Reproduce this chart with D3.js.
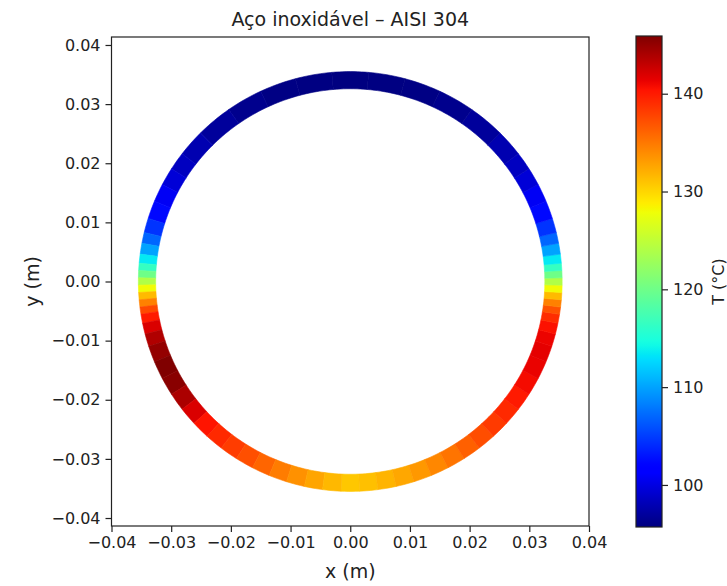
<!DOCTYPE html>
<html>
<head>
<meta charset="utf-8">
<script src="https://cdn.jsdelivr.net/npm/d3@7"></script>
<style>
  body { margin: 0; background: #fff; }
  svg text { font-family: "DejaVu Sans", sans-serif; fill: #222; }
</style>
</head>
<body>
<svg id="chart" width="727" height="586"></svg>
<script>
// ---- data ----
// angle round the ring (deg, 0 = +x, counter-clockwise) and temperature (°C)
const angleDeg = [
  -90, -85, -80, -75, -70, -65, -60, -55, -50, -45, -40, -35, -30, -25, -20, -16, -13, -10, -8, -6, -4, -2,
  0, 2, 4, 6, 9, 12, 15, 20, 25, 30, 35, 40, 50, 60, 70, 80, 90,
  100, 110, 120, 130, 140, 145, 150, 155, 160, 165, 168, 171, 174, 176, 178,
  180, 182, 184, 186, 188, 190, 193, 196, 200, 205, 210, 215, 220, 225, 230, 235, 240, 245, 250, 255, 260, 265
];
const tempC = [
  130.8, 131.2, 131.8, 132.5, 133.3, 134.2, 135.2, 136.3, 137.3, 138.3, 139.2, 140.0, 140.8, 141.3, 141.5, 141.2, 140.5, 139.0, 137.0, 134.5, 131.5, 128.0,
  124.0, 120.0, 116.5, 113.5, 110.0, 107.0, 104.5, 102.3, 100.8, 99.5, 98.5, 97.8, 96.9, 96.3, 95.9, 95.8, 95.7,
  95.8, 95.9, 96.3, 96.9, 97.8, 98.5, 99.5, 100.8, 102.3, 104.5, 107.0, 110.0, 113.5, 116.5, 120.0,
  124.0, 128.0, 131.5, 134.5, 137.5, 140.0, 142.0, 143.8, 145.0, 145.9, 145.5, 144.0, 142.0, 140.3, 139.2, 138.2, 137.2, 136.0, 134.8, 133.7, 132.6, 131.6
];
// ring radii (m)
const ringInner = 0.0326;
const ringOuter = 0.0355;

const xTicks = [-0.04, -0.03, -0.02, -0.01, 0.00, 0.01, 0.02, 0.03, 0.04];
const yTicks = [-0.04, -0.03, -0.02, -0.01, 0.00, 0.01, 0.02, 0.03, 0.04];
const cbTicks = [100, 110, 120, 130, 140];

const titleText = "Aço inoxidável – AISI 304";
const xLabel = "x (m)";
const yLabel = "y (m)";
const cbLabel = "T (°C)";

// ---- layout ----
const svg = d3.select("#chart");
const plot = { left: 111.5, right: 589, top: 37, bottom: 526 };
const cbar = { left: 636, right: 662, top: 36, bottom: 527 };
const tickFont = 16;
const labelFont = 19;

// scales
const x = d3.scaleLinear().domain([-0.04, 0.04]).range([plot.left, plot.right]);
const y = d3.scaleLinear().domain([-0.04135, 0.04135]).range([plot.bottom, plot.top]);

// matplotlib "jet" colormap, channel by channel
const jetR = d3.scaleLinear().domain([0, 0.35, 0.66, 0.89, 1]).range([0, 0, 1, 1, 0.5]).clamp(true);
const jetG = d3.scaleLinear().domain([0, 0.125, 0.375, 0.64, 0.91, 1]).range([0, 0, 1, 1, 0, 0]).clamp(true);
const jetB = d3.scaleLinear().domain([0, 0.11, 0.34, 0.65, 1]).range([0.5, 1, 1, 0, 0]).clamp(true);
const jet = t => d3.rgb(255 * jetR(t), 255 * jetG(t), 255 * jetB(t)).formatHex();

const tExtent = d3.extent(tempC);
const norm = d3.scaleLinear().domain(tExtent).range([0, 1]).clamp(true);
const color = v => jet(norm(v));

// ---- ring ----
const samples = angleDeg.map((a, i) => ({ a, t: tempC[i] }));
const n = samples.length;
const toRad = Math.PI / 180;

// each sample covers half way to its neighbours
const segs = samples.map((s, i) => {
  let prev = samples[(i - 1 + n) % n].a;
  let next = samples[(i + 1) % n].a;
  if (prev > s.a) prev -= 360;
  if (next < s.a) next += 360;
  return { a0: (prev + s.a) / 2, a1: (s.a + next) / 2, t: s.t };
});

const line = d3.line().x(d => x(d[0])).y(d => y(d[1]));

function segPoints(d) {
  const steps = Math.max(2, Math.ceil(d.a1 - d.a0));
  const pts = [];
  for (let k = 0; k <= steps; k++) {
    const a = (d.a0 + (d.a1 - d.a0) * k / steps) * toRad;
    pts.push([ringOuter * Math.cos(a), ringOuter * Math.sin(a)]);
  }
  for (let k = steps; k >= 0; k--) {
    const a = (d.a0 + (d.a1 - d.a0) * k / steps) * toRad;
    pts.push([ringInner * Math.cos(a), ringInner * Math.sin(a)]);
  }
  return pts;
}

svg.append("g")
  .selectAll("path")
  .data(segs)
  .join("path")
  .attr("d", d => line(segPoints(d)) + "Z")
  .attr("fill", d => color(d.t))
  .attr("stroke", d => color(d.t))
  .attr("stroke-width", 0.6);

// ---- axes ----
const xAxis = svg.append("g")
  .attr("transform", `translate(0,${plot.bottom})`)
  .call(d3.axisBottom(x).tickValues(xTicks).tickFormat(d3.format(".2f")).tickSize(6).tickPadding(5).tickSizeOuter(0));
const yAxis = svg.append("g")
  .attr("transform", `translate(${plot.left},0)`)
  .call(d3.axisLeft(y).tickValues(yTicks).tickFormat(d3.format(".2f")).tickSize(6).tickPadding(5).tickSizeOuter(0));

[xAxis, yAxis].forEach(g => {
  g.select(".domain").remove();
  g.selectAll(".tick line").attr("stroke", "#222").attr("stroke-width", 1.2);
  g.selectAll(".tick text").style("font-size", tickFont + "px").attr("fill", "#222");
});

// frame
svg.append("rect")
  .attr("x", plot.left).attr("y", plot.top)
  .attr("width", plot.right - plot.left).attr("height", plot.bottom - plot.top)
  .attr("fill", "none").attr("stroke", "#222").attr("stroke-width", 1.2);

// titles
svg.append("text")
  .attr("x", (plot.left + plot.right) / 2).attr("y", 26)
  .attr("text-anchor", "middle").style("font-size", labelFont + "px")
  .text(titleText);

svg.append("text")
  .attr("x", (plot.left + plot.right) / 2).attr("y", 578)
  .attr("text-anchor", "middle").style("font-size", labelFont + "px")
  .text(xLabel);

svg.append("text")
  .attr("transform", `translate(39,${(plot.top + plot.bottom) / 2}) rotate(-90)`)
  .attr("text-anchor", "middle").style("font-size", labelFont + "px")
  .text(yLabel);

// ---- colour bar ----
const cb = d3.scaleLinear().domain(tExtent).range([cbar.bottom, cbar.top]);

const grad = svg.append("defs").append("linearGradient")
  .attr("id", "jetGrad").attr("x1", 0).attr("y1", 1).attr("x2", 0).attr("y2", 0);
grad.selectAll("stop")
  .data(d3.range(0, 1.0001, 0.01))
  .join("stop")
  .attr("offset", d => d)
  .attr("stop-color", d => jet(d));

svg.append("rect")
  .attr("x", cbar.left).attr("y", cbar.top)
  .attr("width", cbar.right - cbar.left).attr("height", cbar.bottom - cbar.top)
  .attr("fill", "url(#jetGrad)")
  .attr("stroke", "#222").attr("stroke-width", 1.2);

const cbAxis = svg.append("g")
  .attr("transform", `translate(${cbar.right},0)`)
  .call(d3.axisRight(cb).tickValues(cbTicks).tickSize(6).tickPadding(5).tickSizeOuter(0));
cbAxis.select(".domain").remove();
cbAxis.selectAll(".tick line").attr("stroke", "#222").attr("stroke-width", 1.2);
cbAxis.selectAll(".tick text").style("font-size", tickFont + "px").attr("fill", "#222");

svg.append("text")
  .attr("transform", `translate(724,${(cbar.top + cbar.bottom) / 2}) rotate(-90)`)
  .attr("text-anchor", "middle").style("font-size", tickFont + "px")
  .text(cbLabel);
</script>
</body>
</html>
